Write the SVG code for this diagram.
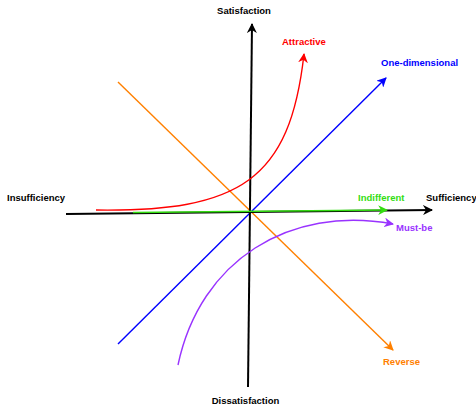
<svg xmlns="http://www.w3.org/2000/svg" width="476" height="407" viewBox="0 0 476 407">
<style>
text{font-family:"Liberation Sans",Arial,sans-serif;font-weight:bold;font-size:9.5px}
.ln{fill:none;stroke-width:1.4}
</style>
<defs>
<marker id="aK" viewBox="0 0 10 10" refX="9" refY="5" markerWidth="5" markerHeight="5" orient="auto" markerUnits="strokeWidth"><path d="M0,0 L10,5 L0,10 L3,5 Z" fill="#000"/></marker>
<marker id="aR" viewBox="0 0 10 10" refX="9" refY="5" markerWidth="7" markerHeight="7" orient="auto" markerUnits="strokeWidth"><path d="M0,0 L10,5 L0,10 L3,5 Z" fill="#ff0000"/></marker>
<marker id="aB" viewBox="0 0 10 10" refX="9" refY="5" markerWidth="7" markerHeight="7" orient="auto" markerUnits="strokeWidth"><path d="M0,0 L10,5 L0,10 L3,5 Z" fill="#0000ff"/></marker>
<marker id="aG" viewBox="0 0 10 10" refX="9" refY="5" markerWidth="7" markerHeight="7" orient="auto" markerUnits="strokeWidth"><path d="M0,0 L10,5 L0,10 L3,5 Z" fill="#33dd11"/></marker>
<marker id="aO" viewBox="0 0 10 10" refX="9" refY="5" markerWidth="7" markerHeight="7" orient="auto" markerUnits="strokeWidth"><path d="M0,0 L10,5 L0,10 L3,5 Z" fill="#ff8000"/></marker>
<marker id="aP" viewBox="0 0 10 10" refX="9" refY="5" markerWidth="7" markerHeight="7" orient="auto" markerUnits="strokeWidth"><path d="M0,0 L10,5 L0,10 L3,5 Z" fill="#9933ff"/></marker>
</defs>
<g id="connectors">
<path class="ln" d="M118,82 L393,350" stroke="#ff8000" marker-end="url(#aO)"/>
<path class="ln" d="M118,344 L386,78" stroke="#0000ff" marker-end="url(#aB)"/>
<path d="M248,387 L252,24" fill="none" stroke="#000" stroke-width="2" marker-end="url(#aK)"/>
<path d="M66,214 L432,210" fill="none" stroke="#000" stroke-width="2" marker-end="url(#aK)"/>
<path class="ln" d="M133,212.5 L387,210" stroke="#33dd11" stroke-width="1.6" marker-end="url(#aG)"/>
<path class="ln" d="M96,210 C240,212 290,180 304,54" stroke="#ff0000" marker-end="url(#aR)"/>
<path class="ln" d="M178,365 C200,260 290,205 393,224" stroke="#9933ff" marker-end="url(#aP)"/>
</g>
<g id="satisfaction"><text x="244" y="14" text-anchor="middle" fill="#000">Satisfaction</text></g>
<g id="dissatisfaction"><text x="245.5" y="404" text-anchor="middle" fill="#000">Dissatisfaction</text></g>
<g id="insufficiency"><text x="7" y="201" fill="#000">Insufficiency</text></g>
<g id="sufficiency"><text x="426" y="201" fill="#000">Sufficiency</text></g>
<g id="attractive"><text x="282" y="45" fill="#ff0000">Attractive</text></g>
<g id="one-dimensional"><text x="381" y="66" fill="#0000ff">One-dimensional</text></g>
<g id="indifferent"><text x="358" y="201" fill="#33dd11">Indifferent</text></g>
<g id="must-be"><text x="396" y="231" fill="#9933ff">Must-be</text></g>
<g id="reverse"><text x="383" y="365" fill="#ff8000">Reverse</text></g>
</svg>
